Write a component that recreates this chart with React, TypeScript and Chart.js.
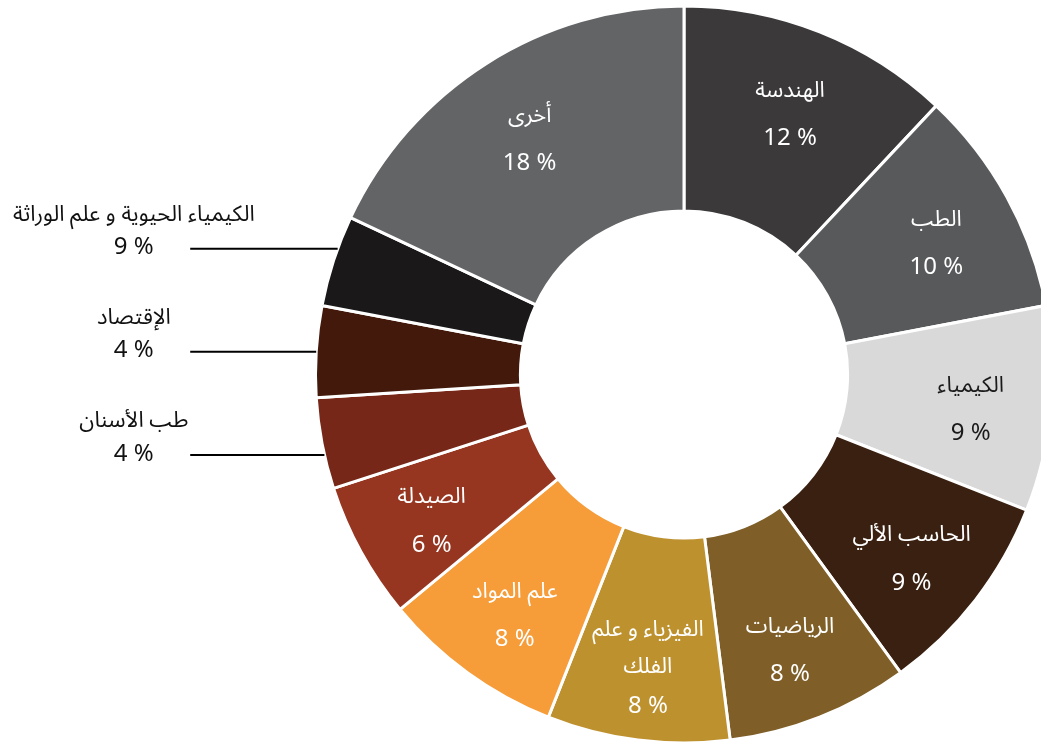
import React, { useEffect, useRef } from 'react';
import { Chart, registerables } from 'chart.js';

Chart.register(...registerables);

// ---- data ----
const categories: string[] = [
  'الهندسة',
  'الطب',
  'الكيمياء',
  'الحاسب الألي',
  'الرياضيات',
  'الفيزياء و علم\nالفلك',
  'علم المواد',
  'الصيدلة',
  'طب الأسنان',
  'الإقتصاد',
  'الكيمياء الحيوية و علم الوراثة',
  'أخرى',
];
const shares: number[] = [12, 10, 9, 9, 8, 8, 8, 6, 4, 4, 4, 18];
const shareLabels: string[] = ['12 %', '10 %', '9 %', '9 %', '8 %', '8 %', '8 %', '6 %', '4 %', '4 %', '9 %', '18 %'];

// ---- styles ----
const sliceColors: string[] = [
  '#3b3939', '#58595b', '#d9d9d9', '#3a2011', '#7f5f27', '#be912f',
  '#f69c39', '#963621', '#772717', '#42190b', '#1a1819', '#636466',
];
const insideTextColors: string[] = [
  '#ffffff', '#ffffff', '#1a1a1a', '#ffffff', '#ffffff', '#ffffff',
  '#ffffff', '#ffffff', '#ffffff', '#ffffff', '#ffffff', '#ffffff',
];
const FONT_STACK = '"Noto Sans Arabic", "Noto Sans", "DejaVu Sans", sans-serif';
const NAME_FONT = `22px ${FONT_STACK}`;
const PCT_FONT = `24px ${FONT_STACK}`;

const labelPlugin = {
  id: 'sliceLabels',
  afterDatasetsDraw(chart: any) {
    const ctx: CanvasRenderingContext2D = chart.ctx;
    const meta = chart.getDatasetMeta(0);
    const total = shares.reduce((a, b) => a + b, 0);
    const outside: { i: number; p: any; mid: number; y: number }[] = [];
    ctx.save();
    ctx.textAlign = 'center';
    ctx.textBaseline = 'middle';
    meta.data.forEach((arc: any, i: number) => {
      const p = arc.getProps(['x', 'y', 'startAngle', 'endAngle', 'innerRadius', 'outerRadius'], true);
      const mid = (p.startAngle + p.endAngle) / 2;
      if (shares[i] / total < 0.05) {
        outside.push({ i, p, mid, y: p.y + Math.sin(mid) * p.outerRadius });
        return;
      }
      const r = p.innerRadius + 0.607 * (p.outerRadius - p.innerRadius);
      const cx = p.x + Math.cos(mid) * r;
      const cy = p.y + Math.sin(mid) * r + 0.027 * p.outerRadius;
      const lines = categories[i].split('\n');
      const gap = lines.length > 1 ? 37 : 46;
      const all = [...lines, shareLabels[i]];
      const n = all.length;
      ctx.fillStyle = insideTextColors[i];
      all.forEach((t, k) => {
        const isPct = k === n - 1;
        ctx.font = isPct ? PCT_FONT : NAME_FONT;
        ctx.fillText(t, cx, cy + (k - (n - 1) / 2) * gap + (isPct ? 2 : 0));
      });
    });

    if (outside.length) {
      const R = outside[0].p.outerRadius;
      const gap = 0.28 * R;
      outside.sort((a, b) => a.y - b.y);
      const origMean = outside.reduce((s, o) => s + o.y, 0) / outside.length;
      for (let k = 1; k < outside.length; k++) {
        if (outside[k].y < outside[k - 1].y + gap) outside[k].y = outside[k - 1].y + gap;
      }
      const newMean = outside.reduce((s, o) => s + o.y, 0) / outside.length;
      const shift = origMean - newMean;
      outside.forEach((o) => {
        const y = o.y + shift;
        const cxp = o.p.x;
        const cyp = o.p.y;
        const dy = y - cyp;
        const xEnd = cxp - Math.sqrt(Math.max(R * R - dy * dy, 0));
        const xStart = cxp - 1.34 * R;
        ctx.strokeStyle = '#000000';
        ctx.lineWidth = 2;
        ctx.beginPath();
        ctx.moveTo(xStart, y);
        ctx.lineTo(xEnd, y);
        ctx.stroke();
        const lx = cxp - 1.493 * R;
        ctx.fillStyle = '#111111';
        ctx.font = NAME_FONT;
        ctx.fillText(categories[o.i].replace('\n', ' '), lx, y - 31);
        ctx.font = PCT_FONT;
        ctx.fillText(shareLabels[o.i], lx, y + 2);
      });
    }
    ctx.restore();
  },
};

export default function App() {
  const canvasRef = useRef<HTMLCanvasElement | null>(null);

  useEffect(() => {
    if (!canvasRef.current) return;
    const chart = new Chart(canvasRef.current, {
      type: 'doughnut',
      data: {
        labels: categories,
        datasets: [
          {
            data: shares,
            backgroundColor: sliceColors,
            borderColor: '#ffffff',
            borderWidth: 3,
            hoverOffset: 0,
            hoverBorderWidth: 3,
          } as any,
        ],
      },
      options: {
        responsive: false,
        animation: false,
        radius: 368.5,
        cutout: '44.4%',
        layout: { padding: { left: 327, right: 0, top: 6, bottom: 0 } },
        plugins: {
          legend: { display: false },
          tooltip: { enabled: false },
        },
        events: [],
      } as any,
      plugins: [labelPlugin],
    });
    return () => chart.destroy();
  }, []);

  return (
    <div style={{ position: 'fixed', left: 0, top: 0, width: 1041, height: 743, background: '#ffffff' }}>
      <canvas ref={canvasRef} width={1041} height={743} style={{ width: 1041, height: 743, display: 'block' }} />
    </div>
  );
}
